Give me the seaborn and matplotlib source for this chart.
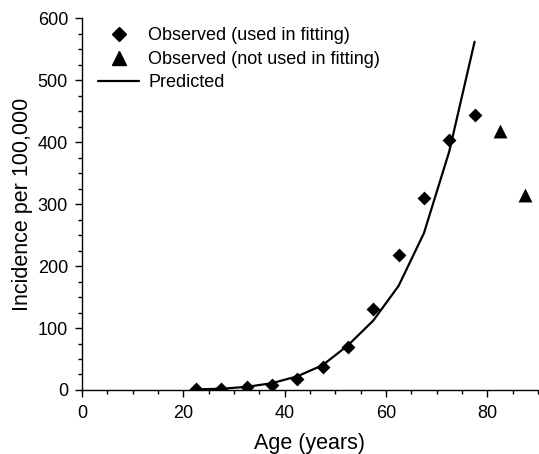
import numpy as np
import pandas as pd
import matplotlib.pyplot as plt
import seaborn as sns
from matplotlib.ticker import MultipleLocator
from matplotlib.lines import Line2D

# observed incidence, age groups used in the fit
age_fit = [22.5, 27.5, 32.5, 37.5, 42.5, 47.5, 52.5, 57.5, 62.5, 67.5, 72.5, 77.5]
obs_fit = [2, 2, 5, 8, 18, 37, 70, 130, 218, 309, 404, 444]

# observed incidence, older groups left out of the fit
age_nofit = [82.5, 87.5]
obs_nofit = [418, 315]

# model prediction
pred = [1, 2, 5, 11, 22, 40, 72, 112, 168, 253, 385, 562]

sns.set_style("ticks")
plt.rcParams['font.family'] = ['Liberation Sans', 'DejaVu Sans']
plt.rcParams['text.color'] = 'black'
plt.rcParams['axes.labelcolor'] = 'black'
plt.rcParams['xtick.color'] = 'black'
plt.rcParams['ytick.color'] = 'black'

fig, ax = plt.subplots(figsize=(5.39, 4.54), dpi=100)
fig.subplots_adjust(left=0.152, right=0.998, bottom=0.141, top=0.96)

df_fit = pd.DataFrame({'age': age_fit, 'obs': obs_fit, 'pred': pred})
df_nofit = pd.DataFrame({'age': age_nofit, 'obs': obs_nofit})

sns.lineplot(data=df_fit, x='age', y='pred', color='black', lw=1.6, ax=ax)
sns.scatterplot(data=df_fit, x='age', y='obs', marker='D', s=50,
                color='black', edgecolor='black', linewidth=0, ax=ax, zorder=3)
sns.scatterplot(data=df_nofit, x='age', y='obs', marker='^', s=100,
                color='black', edgecolor='black', linewidth=0, ax=ax, zorder=3)

ax.set_xlim(0, 90)
ax.set_ylim(0, 600)
ax.xaxis.set_major_locator(MultipleLocator(20))
ax.xaxis.set_minor_locator(MultipleLocator(5))
ax.yaxis.set_major_locator(MultipleLocator(100))
ax.yaxis.set_minor_locator(MultipleLocator(25))
ax.tick_params(which='major', length=5, width=1, labelsize=13)
ax.tick_params(axis='x', which='major', pad=6)
ax.tick_params(axis='y', which='major', pad=5)
ax.tick_params(which='minor', length=3, width=1)
for s in ['left', 'bottom']:
    ax.spines[s].set_color('black')
    ax.spines[s].set_linewidth(1)
sns.despine(ax=ax)

ax.set_xlabel('Age (years)', fontsize=15.5, labelpad=8)
ax.set_ylabel('Incidence per 100,000', fontsize=15.5, labelpad=3)

handles = [
    Line2D([], [], marker='D', ls='none', color='black', ms=7),
    Line2D([], [], marker='^', ls='none', color='black', ms=9.5),
    Line2D([], [], color='black', lw=1.6),
]
labels = ['Observed (used in fitting)', 'Observed (not used in fitting)', 'Predicted']
ax.legend(handles, labels, loc='upper left', frameon=False, fontsize=13,
          handlelength=2.3, handletextpad=0.5, labelspacing=0.36,
          borderpad=0, borderaxespad=0, bbox_to_anchor=(0.035, 0.975))

fig.savefig('out.png', dpi=100)
